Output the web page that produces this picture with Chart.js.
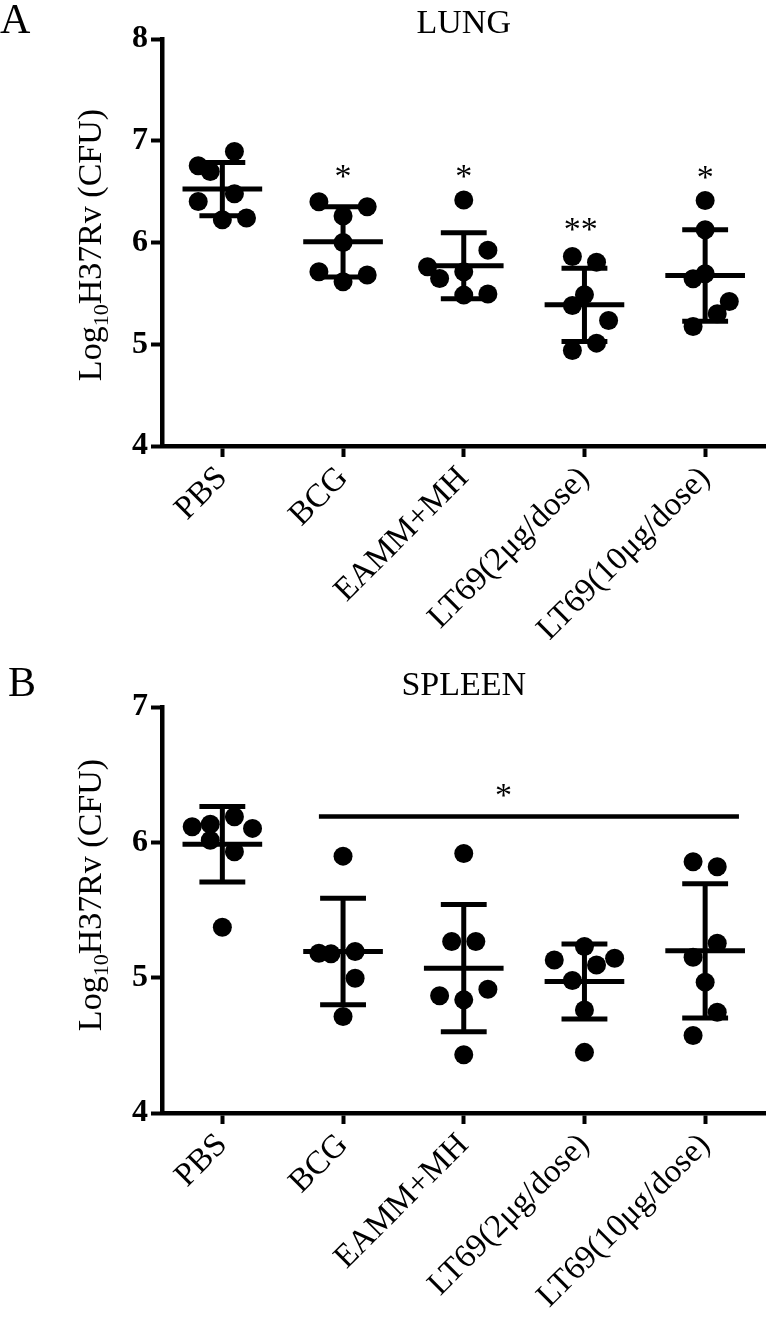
<!DOCTYPE html>
<html>
<head>
<meta charset="utf-8">
<script src="https://cdn.jsdelivr.net/npm/chart.js@4.4.1/dist/chart.umd.min.js"></script>
<style>
  html, body { margin: 0; padding: 0; background: #fff; }
  #wrap { position: relative; width: 775px; height: 1318px; }
  canvas { position: absolute; left: 0; }
</style>
</head>
<body>
<div id="wrap">
  <canvas id="lung" width="775" height="640" style="top:0"></canvas>
  <canvas id="spleen" width="775" height="678" style="top:640px"></canvas>
</div>
<script>
'use strict';

const groups = ['PBS', 'BCG', 'EAMM+MH', 'LT69(2μg/dose)', 'LT69(10μg/dose)'];

// A - lung, log10 CFU per mouse
const lungPBS  = [6.895, 6.754, 6.698, 6.403, 6.479, 6.223, 6.240];
const lungBCG  = [6.400, 6.351, 6.260, 6.000, 5.712, 5.680, 5.614];
const lungEAMM = [6.417, 5.925, 5.761, 5.647, 5.712, 5.483, 5.493];
const lungLT2  = [5.862, 5.807, 5.486, 5.380, 5.233, 4.938, 5.011];
const lungLT10 = [6.413, 6.125, 5.643, 5.692, 5.420, 5.299, 5.174];
const lungMean = [6.525, 6.007, 5.771, 5.387, 5.675];
const lungSD   = [0.262, 0.345, 0.325, 0.360, 0.450];
const lungStars = ['', '*', '*', '**', '*'];
const lungStarY = [null, 6.70, 6.70, 6.18, 6.69];

// horizontal spread of the dots (in group widths)
const lungJitPBS  = [0.1, -0.2, -0.1, -0.2, 0.1, 0, 0.2];
const lungJitBCG  = [-0.2, 0.2, 0, 0, -0.2, 0.2, 0];
const lungJitEAMM = [0, 0.2, -0.3, -0.2, 0, 0, 0.2];
const lungJitLT2  = [-0.1, 0.1, 0, -0.1, 0.2, -0.1, 0.1];
const lungJitLT10 = [0, 0, -0.1, 0, 0.2, 0.1, -0.1];

// B - spleen
const spleenPBS  = [6.115, 6.134, 6.189, 6.103, 6.016, 5.930, 5.372];
const spleenBCG  = [5.898, 5.180, 5.176, 5.193, 4.996, 4.713];
const spleenEAMM = [5.918, 5.267, 5.267, 4.866, 4.915, 4.836, 4.430];
const spleenLT2  = [5.230, 5.131, 5.094, 5.143, 4.979, 4.762, 4.448];
const spleenLT10 = [5.857, 5.820, 5.254, 5.151, 4.967, 4.745, 4.573];
const spleenMean = [5.985, 5.193, 5.070, 4.971, 5.198];
const spleenSD   = [0.279, 0.393, 0.470, 0.277, 0.496];

const spleenJitPBS  = [-0.25, -0.1, 0.1, 0.25, -0.1, 0.1, 0];
const spleenJitBCG  = [0, -0.2, -0.1, 0.1, 0.1, 0];
const spleenJitEAMM = [0, -0.1, 0.1, -0.2, 0.2, 0, 0];
const spleenJitLT2  = [0, -0.25, 0.1, 0.25, -0.1, 0, 0];
const spleenJitLT10 = [-0.1, 0.1, 0.1, -0.1, 0, 0.1, -0.1];

// BCG..LT69(10) vs PBS bracket
const spleenBracketX = [0.8, 4.28];
const spleenBracketY = 6.19;
const spleenBracketStar = [2.33, 6.385];

const SERIF = '"Liberation Serif", "Times New Roman", serif';

function points(values, jitter, i) {
  return values.map((v, j) => ({ x: i + jitter[j], y: v }));
}

const meanSd = {
  id: 'meanSd',
  afterDatasetsDraw(chart, args, o) {
    const { ctx, scales: { x, y } } = chart;
    const hl = (x0, x1, v) => {
      ctx.beginPath();
      ctx.moveTo(x.getPixelForValue(x0), y.getPixelForValue(v));
      ctx.lineTo(x.getPixelForValue(x1), y.getPixelForValue(v));
      ctx.stroke();
    };
    ctx.save();
    ctx.strokeStyle = '#000';
    ctx.lineWidth = 5;
    o.means.forEach((m, i) => {
      const s = o.sds[i];
      hl(i - 0.33, i + 0.33, m);
      hl(i - 0.19, i + 0.19, m + s);
      hl(i - 0.19, i + 0.19, m - s);
      ctx.beginPath();
      ctx.moveTo(x.getPixelForValue(i), y.getPixelForValue(m + s));
      ctx.lineTo(x.getPixelForValue(i), y.getPixelForValue(m - s));
      ctx.stroke();
    });
    if (o.bracket) {
      ctx.lineWidth = 4.5;
      hl(o.bracket[0], o.bracket[1], o.bracketY);
    }
    ctx.restore();
  }
};

const notes = {
  id: 'notes',
  afterDraw(chart, args, o) {
    const { ctx, chartArea, scales: { x, y } } = chart;
    ctx.save();
    ctx.fillStyle = '#000';
    ctx.textBaseline = 'alphabetic';

    ctx.font = '42px ' + SERIF;
    ctx.textAlign = 'left';
    ctx.fillText(o.letter, o.letterPos[0], o.letterPos[1]);

    ctx.font = '34px ' + SERIF;
    ctx.textAlign = 'center';
    ctx.fillText(o.title, (chartArea.left + chartArea.right) / 2, o.titleY);

    // stars
    ctx.font = '34px ' + SERIF;
    o.stars.forEach(s => {
      ctx.fillText(s.t, x.getPixelForValue(s.x), y.getPixelForValue(s.y) + 16);
    });

    // y title with subscript
    const big = '34px ' + SERIF, small = '22px ' + SERIF;
    const parts = [['Log', big, 0], ['10', small, 7], ['H37Rv (CFU)', big, 0]];
    let total = 0;
    parts.forEach(p => { ctx.font = p[1]; total += ctx.measureText(p[0]).width; });
    ctx.translate(101, o.yTitleMid);
    ctx.rotate(-Math.PI / 2);
    ctx.textAlign = 'left';
    let cx = -total / 2;
    parts.forEach(p => {
      ctx.font = p[1];
      ctx.fillText(p[0], cx, p[2]);
      cx += ctx.measureText(p[0]).width;
    });
    ctx.restore();
  }
};

function makePanel(id, cfg) {
  const axisLine = { display: true, color: '#000', width: 4.5 };
  const gridTicks = { drawOnChartArea: false, drawTicks: true, tickLength: 11, tickWidth: 4, tickColor: '#000' };
  return new Chart(document.getElementById(id), {
    type: 'scatter',
    data: {
      datasets: cfg.sets.map((vals, i) => ({
        data: points(vals, cfg.jit[i], i),
        pointRadius: 9.5,
        pointBackgroundColor: '#000',
        pointBorderWidth: 0
      }))
    },
    plugins: [meanSd, notes],
    options: {
      responsive: false,
      animation: false,
      layout: { padding: { top: cfg.padTop, right: 2, left: 0, bottom: 0 } },
      plugins: {
        legend: { display: false },
        tooltip: { enabled: false },
        meanSd: { means: cfg.means, sds: cfg.sds, bracket: cfg.bracket, bracketY: cfg.bracketY },
        notes: cfg.notes
      },
      scales: {
        x: {
          type: 'linear', min: -0.5, max: 4.5,
          afterBuildTicks: s => { s.ticks = groups.map((g, i) => ({ value: i })); },
          afterFit: s => { s.height = cfg.xHeight; },
          ticks: {
            callback: v => groups[v], color: '#000', autoSkip: false,
            maxRotation: 45, minRotation: 45, padding: 2,
            font: { family: SERIF, size: 33 }
          },
          grid: gridTicks,
          border: axisLine
        },
        y: {
          min: cfg.yMin, max: cfg.yMax,
          afterFit: s => { s.width = 162; },
          ticks: { stepSize: 1, color: '#000', padding: 3, font: { family: SERIF, size: 32, weight: 'bold' } },
          grid: gridTicks,
          border: axisLine
        }
      }
    }
  });
}

makePanel('lung', {
  sets: [lungPBS, lungBCG, lungEAMM, lungLT2, lungLT10],
  jit: [lungJitPBS, lungJitBCG, lungJitEAMM, lungJitLT2, lungJitLT10],
  means: lungMean, sds: lungSD,
  yMin: 4, yMax: 8, padTop: 39, xHeight: 194,
  notes: {
    letter: 'A', letterPos: [0, 33], title: 'LUNG', titleY: 33, yTitleMid: 245,
    stars: lungStars.map((t, i) => ({ t, x: i === 3 ? i - 0.03 : i, y: lungStarY[i] })).filter(s => s.t)
  }
});

makePanel('spleen', {
  sets: [spleenPBS, spleenBCG, spleenEAMM, spleenLT2, spleenLT10],
  jit: [spleenJitPBS, spleenJitBCG, spleenJitEAMM, spleenJitLT2, spleenJitLT10],
  means: spleenMean, sds: spleenSD,
  bracket: spleenBracketX, bracketY: spleenBracketY,
  yMin: 4, yMax: 7, padTop: 67, xHeight: 205,
  notes: {
    letter: 'B', letterPos: [8, 56], title: 'SPLEEN', titleY: 55, yTitleMid: 255,
    stars: [{ t: '*', x: spleenBracketStar[0], y: spleenBracketStar[1] }]
  }
});
</script>
</body>
</html>
